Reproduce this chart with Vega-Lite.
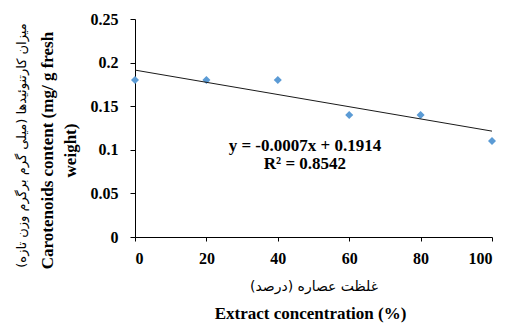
{
  "$schema": "https://vega.github.io/schema/vega-lite/v6.json",
  "width": 357,
  "height": 218,
  "autosize": "none",
  "padding": {"left": 135, "top": 19, "right": 13, "bottom": 87},
  "background": "white",
  "config": {
    "view": {"stroke": null},
    "axis": {
      "grid": false,
      "domainColor": "#000000",
      "tickColor": "#000000",
      "labelColor": "#000000",
      "titleColor": "#000000",
      "labelFont": "Liberation Serif, Times New Roman, serif",
      "labelFontWeight": "bold",
      "labelFontSize": 16,
      "titleFont": "Liberation Serif, Times New Roman, serif",
      "titleFontWeight": "bold",
      "titleFontSize": 17
    }
  },
  "datasets": {
    "points": [
      {"conc": 0, "carot": 0.18},
      {"conc": 20, "carot": 0.18},
      {"conc": 40, "carot": 0.18},
      {"conc": 60, "carot": 0.14},
      {"conc": 80, "carot": 0.14},
      {"conc": 100, "carot": 0.11}
    ],
    "trend": [
      {"conc": 0, "carot": 0.1914},
      {"conc": 100, "carot": 0.1214}
    ],
    "notes": [
      {"conc": 47.6, "carot": 0.1044, "label": "y = -0.0007x + 0.1914"},
      {"conc": 47.6, "carot": 0.0837, "label": "R² = 0.8542"}
    ]
  },
  "layer": [
    {
      "data": {"name": "points"},
      "mark": {"type": "point", "shape": "diamond", "filled": true, "size": 65, "color": "#5B9BD5", "opacity": 1},
      "encoding": {
        "x": {
          "field": "conc", "type": "quantitative",
          "scale": {"domain": [0, 100], "nice": false},
          "axis": {
            "orient": "bottom",
            "values": [0, 20, 40, 60, 80, 100],
            "tickSize": 4,
            "labelPadding": 9,
            "title": "غلظت عصاره (درصد)",
            "titleFont": "DejaVu Sans",
            "titleFontWeight": "normal",
            "titleFontSize": 14,
            "titleBaseline": "middle",
            "titleY": 49
          }
        },
        "y": {
          "field": "carot", "type": "quantitative",
          "scale": {"domain": [0, 0.25], "nice": false},
          "axis": {
            "orient": "left",
            "values": [0, 0.05, 0.1, 0.15, 0.2, 0.25],
            "format": "~f",
            "tickSize": 5,
            "labelPadding": 12,
            "title": ["Carotenoids content (mg/ g fresh", "weight)"],
            "titleLineHeight": 23,
            "titleBaseline": "middle",
            "titleX": -88,
            "titleY": 131
          }
        }
      }
    },
    {
      "data": {"name": "trend"},
      "mark": {"type": "line", "color": "#1a1a1a", "strokeWidth": 1},
      "encoding": {
        "x": {
          "field": "conc", "type": "quantitative",
          "axis": {
            "orient": "bottom",
            "domain": false, "ticks": false, "labels": false,
            "title": "Extract concentration (%)",
            "titleBaseline": "middle",
            "titleX": 175,
            "titleY": 76
          }
        },
        "y": {
          "field": "carot", "type": "quantitative",
          "axis": {
            "orient": "left",
            "domain": false, "ticks": false, "labels": false,
            "title": "میزان کارتنوئیدها (میلی گرم برگرم وزن تازه)",
            "titleFont": "DejaVu Sans",
            "titleFontWeight": "normal",
            "titleFontSize": 13,
            "titleBaseline": "middle",
            "titleX": -114,
            "titleY": 126
          }
        }
      }
    },
    {
      "data": {"name": "notes"},
      "mark": {"type": "text", "font": "Liberation Serif, Times New Roman, serif", "fontWeight": "bold", "fontSize": 17, "color": "#000000"},
      "encoding": {
        "x": {"field": "conc", "type": "quantitative", "axis": null},
        "y": {"field": "carot", "type": "quantitative", "axis": null},
        "text": {"field": "label"}
      }
    }
  ],
  "resolve": {"axis": {"x": "independent", "y": "independent"}}
}
